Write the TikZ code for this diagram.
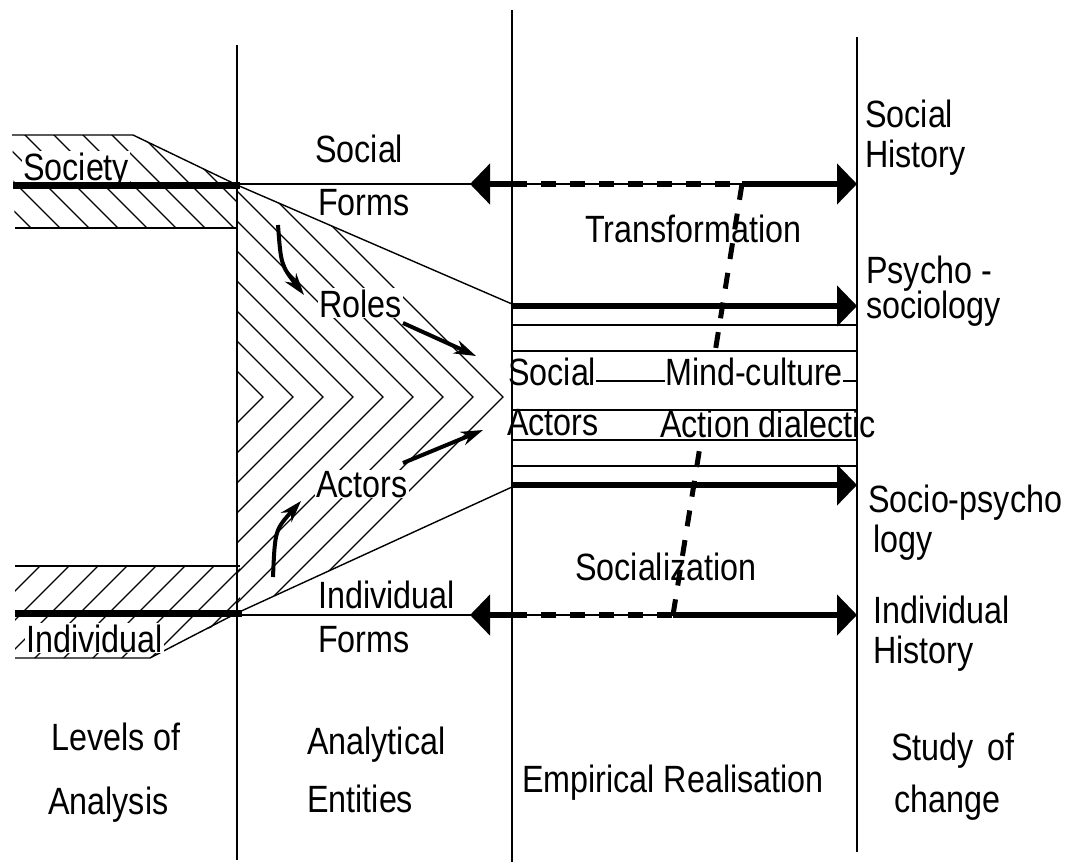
\documentclass[tikz,border=0pt]{standalone}
\usepackage{fontspec}
\setmainfont{Liberation Sans}[FakeStretch=0.85]
\usetikzlibrary{arrows.meta,calc}
\begin{document}
\begin{tikzpicture}[x=1pt,y=-1pt,
  lbl/.style={font=\fontsize{38}{42}\selectfont, inner sep=0pt, anchor=base west},
  wlbl/.style={lbl, fill=white, inner sep=1pt},
  rule/.style={line width=1.4pt},
  hatch/.style={line width=1.2pt},
  boldline/.style={line width=7pt},
  arr/.style={line width=6pt},
  bighead/.style={-{Triangle[length=20pt,width=40pt]}},
  dashes/.style={line width=6pt, dash pattern=on 15pt off 14pt},
  vdashes/.style={line width=5pt, dash pattern=on 16pt off 14pt},
  smallarr/.style={line width=4pt, -{Stealth[length=22pt,width=14pt]}},
]
\useasboundingbox (0,0) rectangle (1070,862);

% ---------- hatching ----------
\begin{scope}
  \clip (12,135) -- (133,135) -- (237,185) -- (237,228) -- (15,228) -- cycle;
  \foreach \i in {-6,...,10} \draw[hatch] (\i*29,110) -- ++(140,140);
\end{scope}
\begin{scope}
  \clip (15,566) -- (240,566) -- (240,613) -- (150,658) -- (15,658) -- cycle;
  \foreach \i in {-2,...,10} \draw[hatch] (56+\i*29,550) -- ++(-140,140);
\end{scope}
\begin{scope}
  \clip (237,185) -- (512,304) -- (512,487) -- (237,613) -- cycle;
  \foreach \i in {0,...,8} \draw[hatch] (\i*30-37,97) -- (\i*30+263,397) -- (\i*30-37,697);
\end{scope}

% ---------- column lines ----------
\draw[rule] (237,45) -- (237,860);
\draw[rule] (512,10) -- (512,862);
\draw[rule] (857,37) -- (857,852);

% ---------- left bands ----------
\draw[rule] (12,135) -- (133,135) -- (237,185);
\draw[rule] (15,228) -- (237,228);
\draw[rule] (15,566) -- (240,566);
\draw[rule] (15,658) -- (150,658) -- (237,613);
\node[wlbl] (society) at (22,180) {Society};
\node[wlbl] (indiv) at (25,652) {Individual};
\draw[boldline] (13,185) -- (240,185);
\draw[boldline] (15,613) -- (242,613);

% ---------- analytical entities ----------
\draw[rule] (237,185) -- (512,304);
\draw[rule] (237,613) -- (512,487);
\draw[rule] (237,184) -- (857,184);
\draw[rule] (237,615) -- (857,615);
\node[lbl] (sf1) at (315,162) {Social};
\node[lbl] (sf2) at (318,215) {Forms};
\node[wlbl] (roles) at (318,317) {Roles};
\node[wlbl] (actors) at (315,497) {Actors};
\node[lbl] (if1) at (318,608) {Individual};
\node[lbl] (if2) at (318,652) {Forms};

\coordinate (ca1) at (278,225); \coordinate (ca2) at (304,295);
\draw[smallarr] (ca1) .. controls (281,265) .. (ca2);
\coordinate (ca3) at (273,577); \coordinate (ca4) at (301,501);
\draw[smallarr] (ca3) .. controls (275,530) .. (ca4);
\coordinate (ra1) at (403,323); \coordinate (ra2) at (476,356);
\draw[smallarr] (ra1) -- (ra2);
\coordinate (aa1) at (403,463); \coordinate (aa2) at (483,430);
\draw[smallarr] (aa1) -- (aa2);

% ---------- empirical realisation band ----------
\draw[arr, bighead] (512,306) -- (857,306);
\draw[rule] (512,325) -- (857,325);
\draw[rule] (512,351) -- (857,351);
\node[lbl] (socR) at (508,385) {Social};
\node[lbl] (mind) at (665,385) {Mind-culture};
\coordinate (m3) at (857,381);
\draw[rule] ([yshift=4pt]socR.base east) -- ([yshift=4pt]mind.base west);
\draw[rule] ([yshift=4pt]mind.base east) -- (m3);
\node[lbl] (actR) at (507,435) {Actors};
\node[lbl] (action) at (660,437) {Action dialectic};
\draw[rule] (512,410) -- (857,410);
\draw[rule] (512,440) -- (857,440);
\draw[rule] (512,466) -- (857,466);
\draw[arr, bighead] (512,485) -- (857,485);

\node[lbl] (transf) at (585,242) {Transformation};
\node[lbl] (socz) at (575,580) {Socialization};

% ---------- double arrows and dialectic line ----------
\coordinate (tT) at (742,184); \coordinate (tB) at (673,615);
\coordinate (sfL) at (470,184); \coordinate (sfM) at (512,184); \coordinate (sfR) at (857,184);
\coordinate (ifL) at (470,615); \coordinate (ifM) at (512,615); \coordinate (ifR) at (857,615);
\draw[arr, bighead] (tT) -- (sfR);
\draw[dashes] (sfM) -- (tT);
\draw[arr, bighead] (sfM) -- (sfL);
\draw[arr, bighead] (tB) -- (ifR);
\draw[dashes] (ifM) -- (tB);
\draw[arr, bighead] (ifM) -- (ifL);
\draw[vdashes] (tT) -- ($(tT)!0.39!(tB)$);
\draw[vdashes] ($(tT)!0.62!(tB)$) -- (tB);

% ---------- right labels ----------
\node[lbl] (rh1) at (865,127) {Social};
\node[lbl] (rh2) at (865,167) {History};
\node[lbl] (ps1) at (866,283) {Psycho -};
\node[lbl] (ps2) at (866,318) {sociology};
\node[lbl] (sp1) at (868,512) {Socio-psycho};
\node[lbl] (sp2) at (873,552) {logy};
\node[lbl] (ih1) at (873,623) {Individual};
\node[lbl] (ih2) at (873,663) {History};

% ---------- bottom labels ----------
\node[lbl] (b1) at (51,750) {Levels of};
\node[lbl] (b2) at (48,814) {Analysis};
\node[lbl] (b3) at (307,754) {Analytical};
\node[lbl] (b4) at (307,812) {Entities};
\node[lbl] (b5) at (522,792) {Empirical Realisation};
\node[lbl] (b6) at (891,760) {Study\hspace{14pt}of};
\node[lbl] (b7) at (894,812) {change};
\end{tikzpicture}
\end{document}
